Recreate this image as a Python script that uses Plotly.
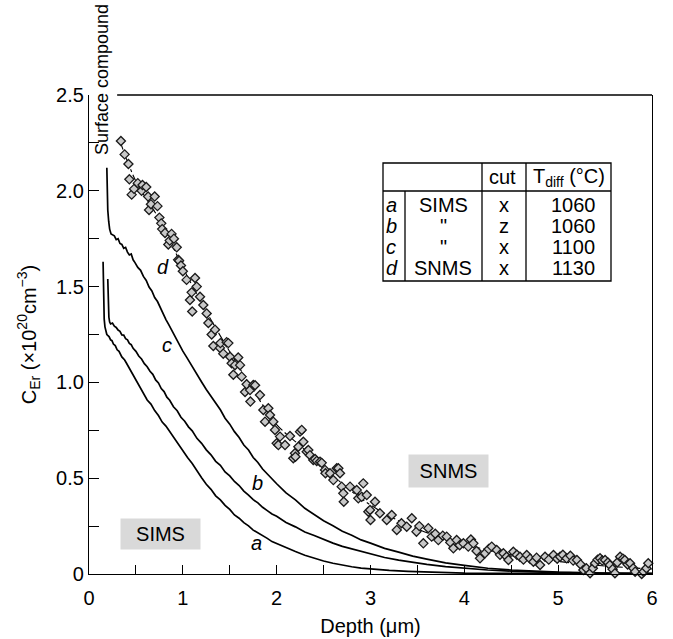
import plotly.graph_objects as go

# ---------------- data ----------------
# SIMS profile a (x-cut, 1060 C)
a_x = [0.15, 0.152, 0.155, 0.158, 0.162, 0.17, 0.18, 0.19, 0.20, 0.215, 0.23, 0.245, 0.26, 0.28, 0.30,
       0.32, 0.35, 0.38, 0.40, 0.43, 0.46, 0.49, 0.52, 0.55, 0.58, 0.62, 0.66, 0.70, 0.74, 0.78, 0.82,
       0.86, 0.90, 0.95, 1.00, 1.05, 1.10, 1.15, 1.20, 1.25, 1.30, 1.35, 1.40, 1.45, 1.50, 1.55, 1.60,
       1.65, 1.70, 1.75, 1.80, 1.85, 1.90, 1.95, 2.00, 2.10, 2.20, 2.30, 2.40, 2.50, 2.60, 2.70, 2.80,
       2.90, 3.00, 3.20, 3.40, 3.60, 3.80, 4.00, 4.50, 5.00, 5.50, 6.00]
a_y = [1.63, 1.55, 1.46, 1.39, 1.33, 1.29, 1.265, 1.25, 1.245, 1.238, 1.222, 1.218, 1.20, 1.192, 1.17,
       1.162, 1.133, 1.117, 1.10, 1.073, 1.052, 1.018, 0.997, 0.963, 0.942, 0.908, 0.887, 0.853, 0.827, 0.793, 0.772,
       0.743, 0.717, 0.678, 0.647, 0.608, 0.577, 0.538, 0.502, 0.468, 0.442, 0.408, 0.387, 0.358, 0.337, 0.308, 0.291,
       0.268, 0.251, 0.229, 0.216, 0.199, 0.186, 0.169, 0.158, 0.137, 0.117, 0.098, 0.082, 0.068, 0.056, 0.046, 0.038,
       0.031, 0.026, 0.019, 0.014, 0.010, 0.007, 0.005, 0.003, 0.002, 0.001, 0.001]

# SIMS profile b (z-cut, 1060 C)
b_x = [0.20, 0.203, 0.207, 0.212, 0.22, 0.23, 0.25, 0.27, 0.29, 0.31, 0.33, 0.35, 0.37, 0.39, 0.41,
       0.43, 0.45, 0.47, 0.50, 0.53, 0.56, 0.59, 0.62, 0.65, 0.68, 0.71, 0.74, 0.77, 0.80, 0.83, 0.86,
       0.90, 0.94, 0.98, 1.02, 1.06, 1.10, 1.15, 1.20, 1.25, 1.30, 1.35, 1.40, 1.45, 1.50, 1.55, 1.60,
       1.65, 1.70, 1.75, 1.80, 1.85, 1.90, 1.95, 2.00, 2.10, 2.20, 2.30, 2.40, 2.50, 2.60, 2.70, 2.80,
       2.90, 3.00, 3.15, 3.30, 3.45, 3.60, 3.80, 4.00, 4.25, 4.50, 4.75, 5.00, 5.50, 6.00]
b_y = [1.54, 1.46, 1.39, 1.34, 1.315, 1.305, 1.31, 1.293, 1.287, 1.273, 1.267, 1.248, 1.247, 1.228, 1.222,
       1.203, 1.197, 1.178, 1.162, 1.138, 1.122, 1.098, 1.082, 1.058, 1.042, 1.013, 0.997, 0.968, 0.952, 0.923, 0.907,
       0.873, 0.852, 0.818, 0.797, 0.768, 0.747, 0.708, 0.682, 0.648, 0.622, 0.588, 0.567, 0.533, 0.512, 0.483, 0.462,
       0.433, 0.412, 0.388, 0.371, 0.348, 0.331, 0.313, 0.301, 0.269, 0.246, 0.219, 0.201, 0.179, 0.161, 0.144, 0.131,
       0.115, 0.102, 0.086, 0.072, 0.060, 0.050, 0.039, 0.030, 0.021, 0.015, 0.010, 0.007, 0.004, 0.002]

# SIMS profile c (x-cut, 1100 C)
c_x = [0.19, 0.193, 0.197, 0.20, 0.21, 0.22, 0.235, 0.25, 0.27, 0.29, 0.31, 0.33, 0.35, 0.37, 0.39,
       0.41, 0.43, 0.45, 0.47, 0.49, 0.52, 0.55, 0.58, 0.61, 0.64, 0.67, 0.70, 0.73, 0.76, 0.79, 0.82,
       0.85, 0.88, 0.91, 0.94, 0.97, 1.00, 1.04, 1.08, 1.12, 1.16, 1.20, 1.25, 1.30, 1.35, 1.40, 1.45,
       1.50, 1.55, 1.60, 1.65, 1.70, 1.75, 1.80, 1.85, 1.90, 1.95, 2.00, 2.10, 2.20, 2.30, 2.40, 2.50,
       2.60, 2.70, 2.80, 2.90, 3.00, 3.15, 3.30, 3.45, 3.60, 3.80, 4.00, 4.25, 4.50, 4.75, 5.00, 5.50, 6.00]
c_y = [2.12, 2.03, 1.95, 1.90, 1.84, 1.80, 1.775, 1.77, 1.765, 1.745, 1.75, 1.725, 1.72, 1.70, 1.705,
       1.68, 1.665, 1.67, 1.64, 1.625, 1.60, 1.585, 1.553, 1.532, 1.498, 1.477, 1.443, 1.422, 1.388, 1.362, 1.328,
       1.302, 1.273, 1.247, 1.218, 1.192, 1.163, 1.132, 1.098, 1.067, 1.033, 1.002, 0.963, 0.927, 0.888, 0.857, 0.813,
       0.782, 0.743, 0.712, 0.673, 0.647, 0.608, 0.582, 0.548, 0.522, 0.493, 0.471, 0.423, 0.387, 0.343, 0.312, 0.278,
       0.252, 0.223, 0.202, 0.178, 0.161, 0.134, 0.114, 0.093, 0.078, 0.058, 0.045, 0.030, 0.021, 0.014, 0.010, 0.005, 0.003]

# SNMS profile d (x-cut, 1130 C): measured points
d_x = [0.34, 0.38, 0.42, 0.43, 0.455, 0.48, 0.52, 0.56, 0.57, 0.61, 0.63, 0.64, 0.66, 0.70, 0.73,
       0.75, 0.77, 0.78, 0.81, 0.845, 0.86, 0.88, 0.905, 0.935, 0.95, 0.96, 0.98, 1.00, 1.04, 1.076,
       1.094, 1.10, 1.13, 1.148, 1.183, 1.218, 1.254, 1.272, 1.307, 1.325, 1.343, 1.396, 1.40, 1.431,
       1.467, 1.485, 1.503, 1.52, 1.538, 1.556, 1.59, 1.61, 1.627, 1.663, 1.68, 1.716, 1.72, 1.751,
       1.77, 1.822, 1.858, 1.876, 1.911, 1.929, 1.964, 1.982, 2.00, 2.018, 2.036, 2.089, 2.142, 2.177,
       2.195, 2.20, 2.231, 2.249, 2.267, 2.284, 2.32, 2.337, 2.355, 2.39, 2.409, 2.427, 2.462, 2.48,
       2.515, 2.52, 2.568, 2.604, 2.64, 2.657, 2.675, 2.693, 2.71, 2.715, 2.782, 2.853, 2.87, 2.906,
       2.923, 2.96, 2.977, 2.995, 3.00, 3.048, 3.10, 3.173, 3.226, 3.28, 3.33, 3.386, 3.44, 3.49,
       3.52, 3.563, 3.616, 3.652, 3.69, 3.723, 3.77, 3.812, 3.85, 3.883, 3.918, 3.95, 3.99, 4.042,
       4.07, 4.096, 4.13, 4.167, 4.22, 4.26, 4.292, 4.345, 4.38, 4.416, 4.45, 4.47, 4.522, 4.56,
       4.593, 4.63, 4.665, 4.70, 4.736, 4.77, 4.807, 4.86, 4.90, 4.95, 4.99, 5.02, 5.05, 5.09,
       5.13, 5.16, 5.20, 5.24, 5.268, 5.30, 5.34, 5.37, 5.393, 5.42, 5.446, 5.47, 5.50, 5.53,
       5.55, 5.58, 5.605, 5.63, 5.66, 5.69, 5.71, 5.74, 5.766, 5.80, 5.82, 5.87, 5.89, 5.91, 5.94, 5.96]
d_y = [2.26, 2.19, 2.14, 2.06, 1.98, 2.01, 2.04, 2.00, 2.03, 2.02, 1.97, 1.90, 1.93, 1.97, 1.92,
       1.86, 1.83, 1.80, 1.78, 1.72, 1.74, 1.775, 1.75, 1.705, 1.64, 1.635, 1.61, 1.58, 1.535, 1.43,
       1.47, 1.37, 1.545, 1.50, 1.447, 1.404, 1.36, 1.31, 1.25, 1.19, 1.275, 1.18, 1.205, 1.15,
       1.21, 1.205, 1.134, 1.10, 1.04, 1.09, 1.13, 1.09, 1.03, 0.95, 0.99, 0.96, 0.90, 0.986,
       0.985, 0.934, 0.856, 0.795, 0.865, 0.83, 0.795, 0.752, 0.682, 0.673, 0.717, 0.673, 0.72, 0.604,
       0.63, 0.612, 0.664, 0.743, 0.752, 0.69, 0.638, 0.647, 0.62, 0.595, 0.60, 0.59, 0.586, 0.58,
       0.543, 0.526, 0.526, 0.49, 0.552, 0.552, 0.526, 0.456, 0.421, 0.377, 0.456, 0.438, 0.395, 0.403,
       0.473, 0.412, 0.325, 0.334, 0.282, 0.377, 0.317, 0.282, 0.308, 0.23, 0.265, 0.247, 0.291, 0.221,
       0.25, 0.16, 0.239, 0.195, 0.21, 0.177, 0.20, 0.195, 0.165, 0.134, 0.177, 0.15, 0.16, 0.143,
       0.18, 0.16, 0.12, 0.082, 0.108, 0.13, 0.143, 0.125, 0.10, 0.108, 0.09, 0.073, 0.116, 0.10,
       0.09, 0.075, 0.099, 0.08, 0.064, 0.085, 0.047, 0.09, 0.075, 0.099, 0.08, 0.09, 0.10, 0.082,
       0.095, 0.07, 0.073, 0.05, 0.021, 0.03, 0.004, 0.03, 0.056, 0.075, 0.082, 0.07, 0.073, 0.06,
       0.047, 0.025, 0.004, 0.06, 0.09, 0.08, 0.073, 0.05, 0.056, 0.03, 0.012, -0.005, 0.0, 0.012, 0.03, 0.056]

# SNMS profile d: fitted curve
dfit_x = [0.33, 0.50, 0.75, 1.00, 1.25, 1.50, 1.75, 2.00, 2.25, 2.50, 2.75, 3.00, 3.25, 3.50,
          3.75, 4.00, 4.25, 4.50, 4.75, 5.00, 5.25, 5.50, 5.75, 6.00]
dfit_y = [2.26, 2.05, 1.85, 1.60, 1.37, 1.16, 0.96, 0.78, 0.67, 0.56, 0.45, 0.36, 0.29, 0.235,
          0.19, 0.155, 0.125, 0.10, 0.082, 0.066, 0.052, 0.042, 0.033, 0.026]

curve_labels = ["a", "b", "c", "d"]
curve_label_x = [1.79, 1.80, 0.83, 0.79]
curve_label_y = [0.162, 0.475, 1.195, 1.60]

y_tickvals = [0, 0.5, 1.0, 1.5, 2.0, 2.5]
y_ticktext = ["0", "0.5", "1.0", "1.5", "2.0", "2.5"]
x_tickvals = [0, 1, 2, 3, 4, 5, 6]
x_ticktext = ["0", "1", "2", "3", "4", "5", "6"]

table_header = ["", "cut", "T<sub>diff</sub> (°C)"]
table_letters = ["a", "b", "c", "d"]
table_method = ["SIMS", '"', '"', "SNMS"]
table_cut = ["x", "z", "x", "x"]
table_temp = ["1060", "1060", "1100", "1130"]

# ---------------- layout helpers ----------------
W, H = 673, 639
PL, PR, PT, PB = 89, 652, 95, 574          # plot-area edges in screen pixels
ML, MR, MT, MB = PL, W - PR, PT, H - PB
PW = PR - PL
PH = PB - PT
FONT = "Liberation Sans, Arial, Helvetica, sans-serif"


def pxx(p):
    return (p - PL) / PW


def pxy(p):
    return (PB - p) / PH


fig = go.Figure()

for xs, ys in [(a_x, a_y), (b_x, b_y), (c_x, c_y)]:
    fig.add_trace(go.Scatter(x=xs, y=ys, mode="lines",
                             line=dict(color="black", width=1.7),
                             showlegend=False, hoverinfo="skip"))

fig.add_trace(go.Scatter(x=dfit_x, y=dfit_y, mode="lines", line_shape="spline",
                         line=dict(color="black", width=1.1, dash="dashdot"),
                         showlegend=False, hoverinfo="skip"))

fig.add_trace(go.Scatter(x=d_x, y=d_y, mode="markers", cliponaxis=False,
                         marker=dict(symbol="diamond", size=7, color="#c8c8c8",
                                     line=dict(color="#1a1a1a", width=1.3)),
                         showlegend=False, hoverinfo="skip"))


def ann(x, y, text, xref="paper", yref="paper", xanchor="center", **kw):
    d = dict(x=x, y=y, xref=xref, yref=yref, text=text, showarrow=False,
             xanchor=xanchor, yanchor="middle")
    d.update(kw)
    return d


annotations = []
for lab, lx, ly in zip(curve_labels, curve_label_x, curve_label_y):
    annotations.append(ann(lx, ly, "<i>%s</i>" % lab, xref="x", yref="y",
                           font=dict(size=20, color="black", family=FONT)))

# method boxes
annotations.append(ann(pxx(160.5), pxy(534), "SIMS", bgcolor="#d9d9d9", width=75, height=26,
                       borderpad=2, font=dict(size=20, color="black", family=FONT)))
annotations.append(ann(pxx(448.5), pxy(471), "SNMS", bgcolor="#d9d9d9", width=75, height=28,
                       borderpad=2, font=dict(size=20, color="black", family=FONT)))

# Surface compound (vertical)
annotations.append(ann(pxx(102), pxy(80), "Surface compound", textangle=-90,
                       font=dict(size=18, color="black", family=FONT)))

# ---------------- table ----------------
tL, tR, tT, tHB, tB = 383, 611, 163, 191, 281
c1, c2, c3 = 405, 482, 526
row_y = [205, 226, 247, 268]
LW = 1.3
shapes = [
    dict(type="rect", xref="paper", yref="paper", x0=pxx(tL), x1=pxx(tR), y0=pxy(tB), y1=pxy(tT),
         line=dict(color="black", width=LW), fillcolor="white", layer="above"),
    dict(type="line", xref="paper", yref="paper", x0=pxx(tL), x1=pxx(tR), y0=pxy(tHB), y1=pxy(tHB),
         line=dict(color="black", width=LW)),
    dict(type="line", xref="paper", yref="paper", x0=pxx(c1), x1=pxx(c1), y0=pxy(tB), y1=pxy(tHB),
         line=dict(color="black", width=LW)),
    dict(type="line", xref="paper", yref="paper", x0=pxx(c2), x1=pxx(c2), y0=pxy(tB), y1=pxy(tT),
         line=dict(color="black", width=LW)),
    dict(type="line", xref="paper", yref="paper", x0=pxx(c3), x1=pxx(c3), y0=pxy(tB), y1=pxy(tT),
         line=dict(color="black", width=LW)),
    # top frame line (interrupted at the left by the "Surface compound" label)
    dict(type="line", xref="x", yref="paper", x0=0.30, x1=6, y0=1, y1=1,
         line=dict(color="black", width=LW)),
]

tf = dict(size=20, color="black", family=FONT)
hdr_y = 177
annotations.append(ann(pxx((c2 + c3) / 2 - 2), pxy(hdr_y), table_header[1], font=tf))
annotations.append(ann(pxx((c3 + tR) / 2), pxy(hdr_y), table_header[2], font=tf))
for i, ry in enumerate(row_y):
    annotations.append(ann(pxx(tL + 1), pxy(ry), "<i>%s</i>" % table_letters[i], xanchor="left", font=tf))
    annotations.append(ann(pxx(443), pxy(ry), table_method[i], font=tf))
    annotations.append(ann(pxx(504), pxy(ry), table_cut[i], font=tf))
    annotations.append(ann(pxx(573), pxy(ry), table_temp[i], font=tf))

fig.update_layout(
    width=W, height=H,
    margin=dict(l=ML, r=MR, t=MT, b=MB, autoexpand=False),
    paper_bgcolor="white", plot_bgcolor="white",
    font=dict(family=FONT, size=20, color="black"),
    annotations=annotations, shapes=shapes,
    xaxis=dict(range=[0, 6], showgrid=False, zeroline=False, showline=True, linecolor="black",
               linewidth=LW, mirror=False, ticks="inside", ticklen=9, tickwidth=1.2, tickcolor="black",
               tickvals=x_tickvals, ticktext=x_ticktext, tickfont=dict(size=20), ticklabelstandoff=6,
               minor=dict(dtick=0.5, ticks="inside", ticklen=9, tickwidth=1.2, tickcolor="black"),
               title=dict(text="Depth (μm)", font=dict(size=20), standoff=10), automargin=False),
    yaxis=dict(range=[0, 2.5], showgrid=False, zeroline=False, showline=True, linecolor="black",
               linewidth=LW, mirror=True, ticks="inside", ticklen=10, tickwidth=1.2, tickcolor="black",
               tickvals=y_tickvals, ticktext=y_ticktext, tickfont=dict(size=20),
               minor=dict(dtick=0.25, ticks="inside", ticklen=10, tickwidth=1.2, tickcolor="black"),
               title=dict(text="C<sub>Er</sub> (×10<sup>20</sup>cm<sup>−3</sup>)", font=dict(size=20),
                          standoff=14), automargin=False),
)

# remove the browser's default 8 px page margin so the figure fills the window exactly
fig.write_html("out.html", config={"displayModeBar": False},
               post_script="document.body.style.margin='0px';document.body.style.overflow='hidden';")
